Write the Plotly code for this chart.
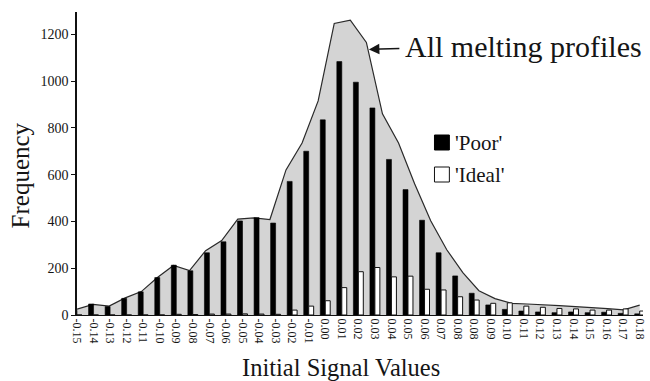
import numpy as np
import plotly.graph_objects as go

# Histogram bins of the initial signal value (the printed axis repeats 0.08)
bin_labels = ["-0.15", "-0.14", "-0.13", "-0.12", "-0.11", "-0.10", "-0.09", "-0.08",
              "-0.07", "-0.06", "-0.05", "-0.04", "-0.03", "-0.02", "-0.01", "0.00",
              "0.01", "0.02", "0.03", "0.04", "0.05", "0.06", "0.07", "0.08", "0.08",
              "0.09", "0.10", "0.11", "0.12", "0.13", "0.14", "0.15", "0.16", "0.17", "0.18"]

poor_counts = [20, 47, 36, 71, 99, 160, 213, 189, 266, 313, 402, 416, 393, 571, 700, 834,
               1083, 995, 885, 665, 536, 405, 266, 167, 93, 43, 24, 17, 13, 10, 13, 10, 12, 7, 5]

ideal_counts = [0, 0, 0, 0, 0, 0, 3, 2, 4, 4, 5, 4, 3, 21, 38, 61,
                117, 185, 203, 163, 166, 110, 107, 78, 64, 50, 52, 38, 33, 28, 26, 21, 21, 26, 17]

# Envelope of all melting profiles (36 evenly spaced points across the same span)
all_profiles = [25, 45, 38, 73, 100, 160, 212, 190, 275, 318, 410, 415, 408, 620, 735, 915,
                1246, 1260, 1165, 860, 735, 561, 403, 279, 181, 104, 70, 50, 47, 42, 40, 36,
                30, 27, 22, 42]

series_names = ["'Poor'", "'Ideal'"]
y_ticks = [0, 200, 400, 600, 800, 1000, 1200]

W, H = 650, 381
M_L, M_R, M_T, M_B = 77, 3, 12, 66
PW, PH = W - M_L - M_R, H - M_T - M_B


def px_x(px):
    return (px - M_L) / PW


def px_y(py):
    return (H - M_B - py) / PH


FONT = "Liberation Serif"
INK = "#151515"

n = len(bin_labels)
cat_x = np.arange(n)
env_x = np.linspace(0, n - 1, len(all_profiles))
x_range = [0, 34.2]
y_range = [0, 1295]

fig = go.Figure()

fig.add_trace(go.Scatter(
    x=env_x, y=all_profiles, mode="lines", fill="tozeroy",
    fillcolor="#d4d4d4", line=dict(color="#2a2a2a", width=1.2),
    name="All melting profiles", showlegend=False, hoverinfo="skip",
    xaxis="x", yaxis="y",
))

fig.add_trace(go.Bar(
    x=cat_x, y=poor_counts, name=series_names[0], showlegend=False,
    marker=dict(color="black", line=dict(color="black", width=0.6)),
    xaxis="x2", yaxis="y",
))
fig.add_trace(go.Bar(
    x=cat_x, y=ideal_counts, name=series_names[1], showlegend=False,
    marker=dict(color="white", line=dict(color="#111111", width=1)),
    xaxis="x2", yaxis="y",
))

fig.update_layout(
    width=W, height=H,
    margin=dict(l=M_L, r=M_R, t=M_T, b=M_B, pad=0),
    paper_bgcolor="white", plot_bgcolor="white",
    barmode="group", bargap=0.4, bargroupgap=0,
    font=dict(family=FONT, color=INK),
    xaxis=dict(
        range=x_range, tickmode="array", tickvals=cat_x, ticktext=bin_labels,
        tickangle=90, tickfont=dict(family=FONT, size=12, color=INK),
        ticklabeloverflow="allow",
        ticks="", showline=True, linecolor="#111", linewidth=1,
        showgrid=False, zeroline=False,
    ),
    xaxis2=dict(range=x_range, overlaying="x", visible=False),
    yaxis=dict(
        range=y_range, tickmode="array", tickvals=y_ticks,
        tickfont=dict(family=FONT, size=14, color=INK),
        ticks="outside", ticklen=4, tickwidth=1, tickcolor="#111",
        showline=True, linecolor="#111", linewidth=1.5,
        showgrid=False, zeroline=False,
    ),
)

# Axis titles
fig.add_annotation(text="Frequency", xref="paper", yref="paper",
                   x=px_x(20), y=px_y(175), textangle=-90, showarrow=False,
                   xanchor="center", yanchor="middle",
                   font=dict(family=FONT, size=25, color=INK))
fig.add_annotation(text="Initial Signal Values", xref="paper", yref="paper",
                   x=px_x(343), y=px_y(367), showarrow=False,
                   xanchor="center", yanchor="middle",
                   font=dict(family=FONT, size=24.5, color=INK))

# Callout for the envelope
fig.add_annotation(text="All melting profiles", xref="paper", yref="paper",
                   x=px_x(405), y=px_y(47), showarrow=False,
                   xanchor="left", yanchor="middle",
                   font=dict(family=FONT, size=30, color=INK))
fig.add_annotation(text="", x=env_x[18] + 0.15, y=all_profiles[18] - 30,
                   xref="x", yref="y", ax=32, ay=-1, axref="pixel", ayref="pixel",
                   showarrow=True, arrowhead=2, arrowsize=1.4, arrowwidth=1.5,
                   arrowcolor=INK)

# Legend: swatches and labels
swatches = [("black", "black", 135), ("white", "#111111", 167)]
for (fill, edge, top), label in zip(swatches, series_names):
    fig.add_shape(type="rect", xref="paper", yref="paper",
                  x0=px_x(437), x1=px_x(452), y0=px_y(top + 15), y1=px_y(top),
                  fillcolor=fill, line=dict(color=edge, width=1))
    fig.add_annotation(text=label, xref="paper", yref="paper",
                       x=px_x(456), y=px_y(top + 8), showarrow=False,
                       xanchor="left", yanchor="middle",
                       font=dict(family=FONT, size=21, color=INK))

fig.write_html("out.html")
